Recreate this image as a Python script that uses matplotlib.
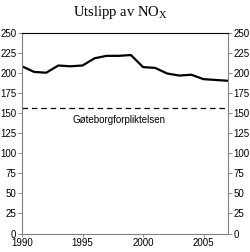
import matplotlib.pyplot as plt

years = list(range(1990, 2008))
nox = [208, 201, 200, 209, 208, 209, 218, 221, 221, 222, 207, 206, 199, 196.5, 197.5, 192, 191, 190]
target = 156
target_label = "Gøteborgforpliktelsen"
yticks = [0, 25, 50, 75, 100, 125, 150, 175, 200, 225, 250]
xticks = [1990, 1995, 2000, 2005]

plt.rcParams['font.family'] = ['Liberation Sans', 'DejaVu Sans']

fig = plt.figure(figsize=(2.5, 2.52), dpi=100)
ax = fig.add_axes([0.088, 0.073, 0.823, 0.798])

ax.plot(years, nox, color='black', linewidth=1.6)
ax.axhline(target, color='black', linewidth=0.9, dashes=(4.5, 3))
ax.text(1998, 141.5, target_label, ha='center', va='center', fontsize=7)

ax.set_xlim(1990, 2007)
ax.set_ylim(0, 250)
ax.set_xticks(xticks)
ax.set_yticks(yticks)

for side in ['left', 'right', 'bottom']:
    ax.spines[side].set_color('#808080')
    ax.spines[side].set_linewidth(0.8)
ax.spines['top'].set_color('black')
ax.spines['top'].set_linewidth(0.8)

ax.tick_params(axis='y', which='both', left=True, right=True, labelleft=True, labelright=True,
               direction='out', length=3, width=0.6, color='#808080', labelsize=7, pad=1)
ax.tick_params(axis='x', direction='out', length=2.5, width=0.6, color='#808080', labelsize=7, pad=1)

fig.text(0.48, 0.952, r'Utslipp av NO$_\mathregular{X}$', ha='center', va='center',
         fontsize=10.5, family='Liberation Serif')

fig.savefig('out.png', dpi=100)
